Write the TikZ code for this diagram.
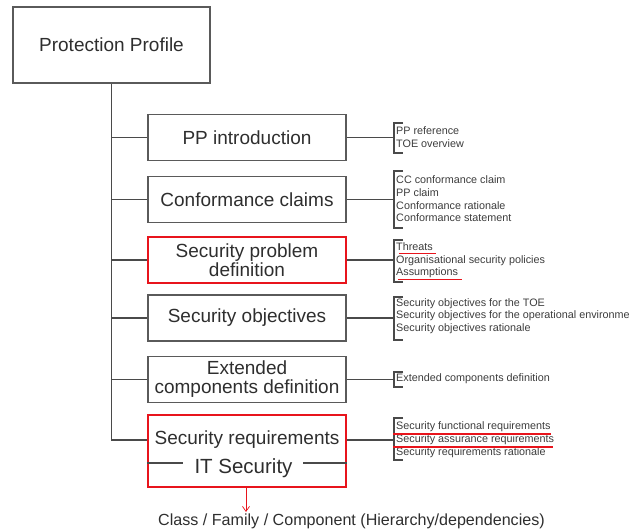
\documentclass[tikz,border=0pt]{standalone}
\usepackage{fontspec}
\setmainfont{Liberation Sans}
\usetikzlibrary{arrows.meta}
\definecolor{linegray}{HTML}{4A4A4A}
\definecolor{boxgray}{HTML}{5A5A5A}
\definecolor{textgray}{HTML}{2E2E2E}
\definecolor{smallgray}{HTML}{3C3C3C}
\definecolor{mark}{HTML}{E8141C}
\tikzset{
  section/.style={draw=boxgray, line width=1.3pt, minimum width=198pt, minimum height=46pt,
    inner sep=0pt, align=center, text=textgray, font=\fontsize{19}{20}\selectfont},
  hot/.style={draw=mark, line width=2.4pt},
  link/.style={draw=linegray, line width=1.2pt},
  brace/.style={draw=linegray, line width=1.1pt},
  item/.style={anchor=west, inner sep=0pt, text=smallgray, font=\fontsize{10.8}{11}\selectfont},
  redline/.style={draw=mark, line width=1.6pt}
}
\begin{document}
\begin{tikzpicture}[x=1pt, y=-1pt]
\useasboundingbox (0,0) rectangle (637,532);

% root box
\node[draw=boxgray, line width=1.3pt, minimum width=197pt, minimum height=76pt, inner sep=0pt,
  text=textgray, font=\fontsize{19}{20}\selectfont] (pp) at (111.5,45) {Protection Profile};

% section boxes
\node[section] (intro) at (247,137.5) {PP introduction};
\node[section] (conf)  at (247,199.5) {Conformance claims};
\node[section, hot] (spd) at (247,260) {Security problem\\[-1pt]definition};
\node[section] (obj)   at (247,318) {Security objectives};
\node[section] (ext)   at (247,379.5) {Extended\\[-1pt]components definition};
\node[section, hot, minimum height=72pt] (req) at (247,451) {};
\node[text=textgray, font=\fontsize{19}{20}\selectfont, inner sep=0pt] (reqtitle) at (247,440) {Security requirements};
\node[text=textgray, font=\fontsize{20.5}{22}\selectfont, inner sep=0pt] (itsec) at (243.5,468.5) {IT Security};
\draw[link, line width=1.1pt] (req.west |- 0,463) -- (183,463);
\draw[link, line width=1.1pt] (303,463) -- (req.east |- 0,463);

% trunk and branches
\draw[link] (pp.south) -- (pp.south |- reqtitle) -- (req.west |- reqtitle);
\foreach \n in {intro,conf,spd,obj,ext}
  \draw[link] (pp.south |- \n.west) -- (\n.west);

% branch lines to the detail lists
\coordinate (brx) at (394,0);
\foreach \n in {intro,conf,spd,obj,ext}
  \draw[link] (\n.east) -- (\n.east -| brx);
\draw[link] (req.east |- reqtitle) -- (brx |- reqtitle);

% brackets
\draw[brace] (403,123) -- (394,123) -- (394,153) -- (403,153);
\draw[brace] (403,171) -- (394,171) -- (394,228) -- (403,228);
\draw[brace] (403,240) -- (394,240) -- (394,282) -- (403,282);
\draw[brace] (403,297) -- (394,297) -- (394,340) -- (403,340);
\draw[brace] (403,372) -- (394,372) -- (394,387) -- (403,387);
\draw[brace] (403,418) -- (394,418) -- (394,460) -- (403,460);

% detail lists
\node[item] (i1) at (396,131) {PP reference};
\node[item] (i2) at (396,143.5) {TOE overview};

\node[item] (c1) at (396,180) {CC conformance claim};
\node[item] (c2) at (396,192.5) {PP claim};
\node[item] (c3) at (396,205.5) {Conformance rationale};
\node[item] (c4) at (396,218) {Conformance statement};

\node[item] (s1) at (396,247) {Threats};
\node[item] (s2) at (396,260.5) {Organisational security policies};
\node[item] (s3) at (396,273) {Assumptions};

\node[item] (o1) at (396,303.5) {Security objectives for the TOE};
\node[item] (o2) at (396,316) {Security objectives for the operational environme};
\node[item] (o3) at (396,328.5) {Security objectives rationale};

\node[item] (e1) at (396,379) {Extended components definition};

\node[item] (r1) at (396,427) {Security functional requirements};
\node[item] (r2) at (396,440) {Security assurance requirements};
\node[item] (r3) at (396,452.5) {Security requirements rationale};

% highlights
\draw[redline] (399,253.5) -- (436,253.5);
\draw[redline] (398,279.5) -- (462,279.5);
\draw[redline] (393,434) -- (551,434);
\draw[redline] (393,447) -- (553,447);

% breakdown of the requirements
\node[text=textgray, font=\fontsize{16.1}{18}\selectfont, inner sep=0pt] (cfc) at (351.5,521)
  {Class / Family / Component (Hierarchy/dependencies)};
\draw[draw=mark, line width=0.7pt, -{Straight Barb[length=5pt,width=7pt]}] (req.south -| 246,0) -- (246,512);
\end{tikzpicture}
\end{document}
